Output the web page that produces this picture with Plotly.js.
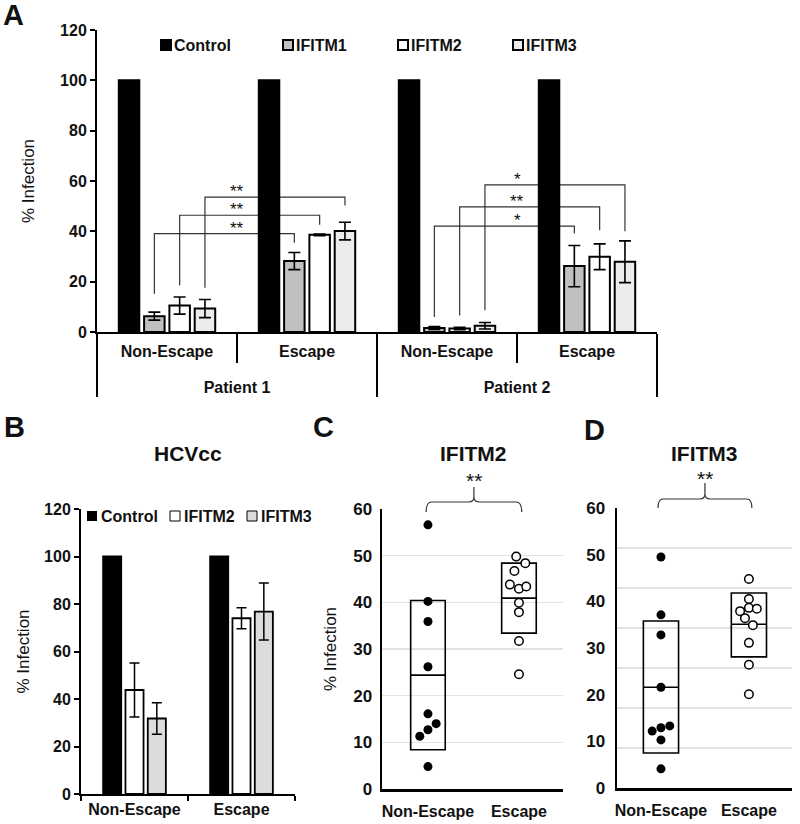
<!DOCTYPE html>
<html><head><meta charset="utf-8">
<script src="https://cdn.plot.ly/plotly-3.0.1.min.js"></script>
<style>html,body{margin:0;padding:0;background:#fff}#chart{width:800px;height:824px}</style>
</head><body><div id="chart"></div>
<script>
// ---------------- Panel A data ----------------
const patientsA = ['Patient 1', 'Patient 1', 'Patient 2', 'Patient 2'];
const groupsA = ['Non-Escape', 'Escape', 'Non-Escape', 'Escape'];
const seriesNamesA = ['Control', 'IFITM1', 'IFITM2', 'IFITM3'];
const controlA = [100, 100, 100, 100];
const ifitm1A = [6.3, 28.2, 1.6, 26.2];
const ifitm1ErrA = [1.6, 3.4, 0.6, 8.2];
const ifitm2A = [10.5, 38.6, 1.4, 29.9];
const ifitm2ErrA = [3.4, 0.3, 0.5, 5.1];
const ifitm3A = [9.3, 40.1, 2.5, 27.9];
const ifitm3ErrA = [3.6, 3.5, 1.3, 8.3];
const yTicksA = [0, 20, 40, 60, 80, 100, 120];
// significance brackets (series index, from category, to category, levels)
const sigSeries = [1, 2, 3, 1, 2, 3];
const sigFromCat = [0, 0, 0, 2, 2, 2];
const sigToCat = [1, 1, 1, 3, 3, 3];
const sigLevel = [39.1, 46.4, 53.6, 42.1, 49.7, 58.5];
const sigLeftEnd = [15.2, 18.5, 17.6, 6.0, 6.6, 8.6];
const sigRightEnd = [35.5, 42.6, 50.3, 39.1, 40.4, 40.0];
const sigLabel = ['**', '**', '**', '*', '**', '*'];

// ---------------- Panel B data ----------------
const groupsB = ['Non-Escape', 'Escape'];
const seriesNamesB = ['Control', 'IFITM2', 'IFITM3'];
const controlB = [100, 100];
const ifitm2B = [43.8, 74.0];
const ifitm2ErrB = [11.4, 4.4];
const ifitm3B = [31.8, 76.8];
const ifitm3ErrB = [6.6, 12.0];
const yTicksB = [0, 20, 40, 60, 80, 100, 120];

// ---------------- Panel C data (IFITM2) ----------------
const catsCD = ['Non-Escape', 'Escape'];
const cNonEscape = [56.6, 40.2, 35.9, 26.2, 16.1, 14.0, 12.7, 11.3, 4.8];
const cNonEscapeJitter = [0, 0, 0, 0, 0, 0.09, 0, -0.09, 0];
const cEscape = [49.8, 48.4, 46.7, 43.8, 42.9, 43.4, 39.9, 37.9, 31.7, 24.6];
const cEscapeJitter = [-0.03, 0.07, -0.05, -0.1, 0, 0.08, 0, 0, 0, 0];
const cBoxLow = [8.4, 33.4];
const cBoxMid = [24.4, 40.9];
const cBoxHigh = [40.4, 48.4];

// ---------------- Panel D data (IFITM3) ----------------
const dNonEscape = [49.5, 37.1, 32.8, 21.6, 12.2, 12.9, 13.3, 10.3, 4.1];
const dNonEscapeJitter = [0, 0, 0, 0, -0.1, 0, 0.1, 0, 0];
const dEscape = [44.8, 40.5, 38.6, 37.9, 38.4, 36.4, 34.9, 31.1, 26.4, 20.1];
const dEscapeJitter = [0, 0, 0, -0.1, 0.09, -0.045, 0.045, 0, 0, 0];
const dBoxLow = [7.5, 28.1];
const dBoxMid = [21.6, 35.1];
const dBoxHigh = [35.8, 41.8];
const yTicksCD = [0, 10, 20, 30, 40, 50, 60];

// ---------------- styling ----------------
const FONT = 'Arial, "Liberation Sans", sans-serif';
const INK = '#111111';
const colorsA = ['#000000', '#c0c0c0', '#ffffff', '#ececec'];
const colorsB = ['#000000', '#ffffff', '#dcdcdc'];
const BARGAP_A = 0.277, BARGROUPGAP_A = 0.19;
const BARGAP_B = 0.374, BARGROUPGAP_B = 0.19;
const W = 800, H = 824;
const X = px => px / W;
const Y = py => 1 - py / H;

const traces = [];

// ---- Panel A bars (outer level label gets an empty first line to sit lower) ----
const outerA = patientsA.map(p => '<br>' + p);
const valsA = [controlA, ifitm1A, ifitm2A, ifitm3A];
const errsA = [null, ifitm1ErrA, ifitm2ErrA, ifitm3ErrA];
valsA.forEach((v, s) => {
  const t = {
    type: 'bar', name: seriesNamesA[s], x: [outerA, groupsA], y: v,
    xaxis: 'x', yaxis: 'y', showlegend: false, hoverinfo: 'skip',
    marker: {color: colorsA[s], line: {color: '#000', width: 2}}
  };
  if (errsA[s]) t.error_y = {type: 'data', array: errsA[s], visible: true, color: '#000', thickness: 1.6, width: 6};
  traces.push(t);
});
traces.push({type: 'scatter', x: [], y: [], xaxis: 'x5', yaxis: 'y', showlegend: false, hoverinfo: 'skip'});

// ---- Panel B bars (explicit width/offset so its gap differs from A) ----
const valsB = [controlB, ifitm2B, ifitm3B];
const errsB = [null, ifitm2ErrB, ifitm3ErrB];
const slotB = (1 - BARGAP_B) / valsB.length;
valsB.forEach((v, s) => {
  const t = {
    type: 'bar', name: seriesNamesB[s], x: groupsB, y: v, xaxis: 'x2', yaxis: 'y2',
    width: slotB * (1 - BARGROUPGAP_B),
    offset: -(1 - BARGAP_B) / 2 + slotB * s + slotB * BARGROUPGAP_B / 2,
    showlegend: false, hoverinfo: 'skip',
    marker: {color: colorsB[s], line: {color: '#000', width: 1.8}}
  };
  if (errsB[s]) t.error_y = {type: 'data', array: errsB[s], visible: true, color: '#000', thickness: 1.5, width: 5};
  traces.push(t);
});

// ---- Panels C and D: mean ± SD boxes and points ----
function dotPanel(xa, ya, ne, neJ, es, esJ, lo, mid, hi, bw) {
  traces.push({
    type: 'box', x: [0, 1], q1: lo, median: mid, q3: hi, lowerfence: lo, upperfence: hi,
    width: bw, whiskerwidth: 0, boxpoints: false, xaxis: xa, yaxis: ya,
    fillcolor: 'rgba(255,255,255,0)', line: {color: '#000', width: 1.6},
    showlegend: false, hoverinfo: 'skip'
  });
  traces.push({
    type: 'scatter', mode: 'markers', x: ne.map((v, i) => 0 + neJ[i]), y: ne,
    xaxis: xa, yaxis: ya, showlegend: false, hoverinfo: 'skip',
    marker: {color: '#000', size: 9, line: {width: 0}}
  });
  traces.push({
    type: 'scatter', mode: 'markers', x: es.map((v, i) => 1 + esJ[i]), y: es,
    xaxis: xa, yaxis: ya, showlegend: false, hoverinfo: 'skip',
    marker: {color: '#fff', size: 8.5, line: {color: '#000', width: 1.5}}
  });
}
dotPanel('x3', 'y3', cNonEscape, cNonEscapeJitter, cEscape, cEscapeJitter, cBoxLow, cBoxMid, cBoxHigh, 0.38);
dotPanel('x4', 'y4', dNonEscape, dNonEscapeJitter, dEscape, dEscapeJitter, dBoxLow, dBoxMid, dBoxHigh, 0.40);
traces.push({type: 'scatter', x: [], y: [], xaxis: 'x4', yaxis: 'y5', showlegend: false, hoverinfo: 'skip'});

// ---------------- layout ----------------
const tickFontBold = size => ({family: FONT, size: size, weight: 'bold', color: INK});
const shapes = [];
const annotations = [];

// Panel A brackets
const slotA = (1 - BARGAP_A) / seriesNamesA.length;
const barCenterA = (cat, s) => cat - (1 - BARGAP_A) / 2 + slotA * (s + 0.5);
sigLevel.forEach((lvl, k) => {
  const xL = barCenterA(sigFromCat[k], sigSeries[k]);
  const xR = barCenterA(sigToCat[k], sigSeries[k]);
  shapes.push({
    type: 'path', xref: 'x5', yref: 'y', layer: 'below',
    path: `M ${xL},${sigLeftEnd[k]} L ${xL},${lvl} L ${xR},${lvl} L ${xR},${sigRightEnd[k]}`,
    line: {color: '#333', width: 1.2}
  });
  annotations.push({
    xref: 'x5', yref: 'y', x: (sigFromCat[k] + sigToCat[k]) / 2, y: lvl,
    text: sigLabel[k], showarrow: false, yanchor: 'bottom', yshift: -6,
    font: {family: FONT, size: 17, color: INK}
  });
});
// short dividers between Non-Escape / Escape in panel A
[0.5, 2.5].forEach(xv => shapes.push({
  type: 'line', xref: 'x5', yref: 'paper', x0: xv, x1: xv, y0: Y(332), y1: Y(363),
  line: {color: '#000', width: 2}
}));

// Panel A legend (manual)
const legAx = [161, 283, 398, 513];
seriesNamesA.forEach((n, s) => {
  shapes.push({type: 'rect', xref: 'paper', yref: 'paper', x0: X(legAx[s]), x1: X(legAx[s] + 10),
    y0: Y(50), y1: Y(40), fillcolor: colorsA[s], line: {color: '#000', width: 2}});
  annotations.push({xref: 'paper', yref: 'paper', x: X(legAx[s] + 11), y: Y(45), xanchor: 'left', yanchor: 'middle',
    text: n, showarrow: false, font: {family: FONT, size: 16, weight: 'bold', color: INK}});
});
// Panel B legend (manual)
const legBx = [87, 170, 247];
seriesNamesB.forEach((n, s) => {
  shapes.push({type: 'rect', xref: 'paper', yref: 'paper', x0: X(legBx[s]), x1: X(legBx[s] + 10),
    y0: Y(521), y1: Y(511), fillcolor: colorsB[s], line: {color: '#000', width: s === 0 ? 0 : 1}});
  annotations.push({xref: 'paper', yref: 'paper', x: X(legBx[s] + 12), y: Y(516), xanchor: 'left', yanchor: 'middle',
    text: n, showarrow: false, font: {family: FONT, size: 16, weight: 'bold', color: INK}});
});

// curly brackets for C and D
function curly(xa, x0, x1, yEndPx, yTopPx, yPeakPx, r) {
  const xm = (x0 + x1) / 2;
  const yE = Y(yEndPx), yT = Y(yTopPx), yP = Y(yPeakPx), yM = Y(yTopPx - 5);
  shapes.push({
    type: 'path', xref: xa, yref: 'paper',
    path: `M ${x0},${yE} Q ${x0},${yT} ${x0 + r},${yT} L ${xm - r},${yT} Q ${xm},${yT} ${xm},${yM} L ${xm},${yP} ` +
          `M ${xm},${yM} Q ${xm},${yT} ${xm + r},${yT} L ${x1 - r},${yT} Q ${x1},${yT} ${x1},${yE}`,
    line: {color: '#333', width: 1.2}
  });
  return xm;
}
const xmC = curly('x3', -0.02, 1.03, 512, 502, 487, 0.06);
const xmD = curly('x4', -0.034, 1.034, 508, 499, 483, 0.06);
annotations.push({xref: 'x3', yref: 'paper', x: xmC, y: Y(476), text: '**', showarrow: false,
  yanchor: 'middle', yshift: -4, font: {family: FONT, size: 21, color: INK}});
annotations.push({xref: 'x4', yref: 'paper', x: xmD, y: Y(474), text: '**', showarrow: false,
  yanchor: 'middle', yshift: -4, font: {family: FONT, size: 21, color: INK}});

// panel letters and titles
[['A', 1, 15], ['B', 2, 427], ['C', 311, 427], ['D', 582, 430]].forEach(([t, px, py]) =>
  annotations.push({xref: 'paper', yref: 'paper', x: X(px), y: Y(py), xanchor: 'left', yanchor: 'middle',
    text: t, showarrow: false, font: {family: FONT, size: 29, weight: 'bold', color: INK}}));
[['HCVcc', 'x2', 0.5, 453], ['IFITM2', 'x3', 0.5, 453], ['IFITM3', 'x4', 0.5, 453]].forEach(([t, xr, xv, py]) =>
  annotations.push({xref: xr, yref: 'paper', x: xv, y: Y(py), xanchor: 'center', yanchor: 'middle',
    text: t, showarrow: false, font: {family: FONT, size: 21, weight: 'bold', color: INK}}));

const yTitle = (standoff) => ({text: '% Infection', standoff: standoff, font: {family: FONT, size: 17, color: INK}});

const layout = {
  width: W, height: H, margin: {l: 0, r: 0, t: 0, b: 0},
  paper_bgcolor: '#fff', plot_bgcolor: 'rgba(0,0,0,0)',
  font: {family: FONT, color: INK},
  showlegend: false, barmode: 'group', bargap: BARGAP_A, bargroupgap: BARGROUPGAP_A,
  // Panel A
  xaxis: {domain: [X(97), X(657)], anchor: 'y', type: 'multicategory', range: [-0.5, 3.5],
    showline: true, linecolor: '#000', linewidth: 2, ticks: '', showgrid: false, zeroline: false,
    showdividers: true, dividercolor: '#000', dividerwidth: 2, tickfont: tickFontBold(16), ticklabelstandoff: 4},
  xaxis5: {overlaying: 'x', anchor: 'y', range: [-0.5, 3.5], visible: false},
  yaxis: {domain: [Y(332), Y(30)], anchor: 'x', range: [0, 120], tickvals: yTicksA, ticks: 'outside', ticklen: 5,
    tickwidth: 2, tickcolor: '#000', showline: true, linecolor: '#000', linewidth: 2, showgrid: false,
    zeroline: false, tickfont: tickFontBold(16), title: yTitle(21)},
  // Panel B
  xaxis2: {domain: [X(81), X(295)], anchor: 'y2', type: 'category', range: [-0.5, 1.5],
    showline: true, linecolor: '#000', linewidth: 2, ticks: 'outside', tickson: 'boundaries', ticklen: 5,
    tickwidth: 2, tickcolor: '#000', showgrid: false, zeroline: false, tickfont: tickFontBold(16)},
  yaxis2: {domain: [Y(794), Y(509)], anchor: 'x2', range: [0, 120], tickvals: yTicksB, ticks: 'outside', ticklen: 5,
    tickwidth: 2, tickcolor: '#000', showline: true, linecolor: '#000', linewidth: 2, showgrid: false,
    zeroline: false, tickfont: tickFontBold(16), title: yTitle(10)},
  // Panel C
  xaxis3: {domain: [X(382), X(563)], anchor: 'y3', range: [-0.505, 1.484], tickvals: [0, 1], ticktext: catsCD,
    showline: true, linecolor: '#000', linewidth: 2.5, ticks: '', showgrid: false, zeroline: false,
    tickfont: tickFontBold(16), ticklabelstandoff: 6},
  yaxis3: {domain: [Y(789), Y(509)], anchor: 'x3', range: [0, 60], tickvals: yTicksCD, ticks: '',
    showline: true, linecolor: '#000', linewidth: 2.5, showgrid: true, gridcolor: '#e2e2e2', gridwidth: 1.5,
    zeroline: false, tickfont: tickFontBold(17), ticklabelstandoff: 4, title: yTitle(12)},
  // Panel D
  xaxis4: {domain: [X(617), X(792)], anchor: 'y4', range: [-0.5, 1.49], tickvals: [0, 1], ticktext: catsCD,
    showline: true, linecolor: '#000', linewidth: 2.5, ticks: '', showgrid: false, zeroline: false,
    tickfont: tickFontBold(16), ticklabelstandoff: 6},
  yaxis4: {domain: [Y(788), Y(508)], anchor: 'x4', range: [0, 60], tickvals: yTicksCD, ticks: '',
    showline: true, linecolor: '#000', linewidth: 2.5, showgrid: false,
    zeroline: false, tickfont: tickFontBold(17), ticklabelstandoff: 6},
  yaxis5: {overlaying: 'y4', anchor: 'x4', range: [0, 7], dtick: 1, showgrid: true, gridcolor: '#e2e2e2',
    gridwidth: 1.5, showticklabels: false, showline: false, zeroline: false, ticks: ''},
  shapes: shapes, annotations: annotations
};

Plotly.newPlot('chart', traces, layout, {displayModeBar: false, staticPlot: true});
</script>
</body></html>
